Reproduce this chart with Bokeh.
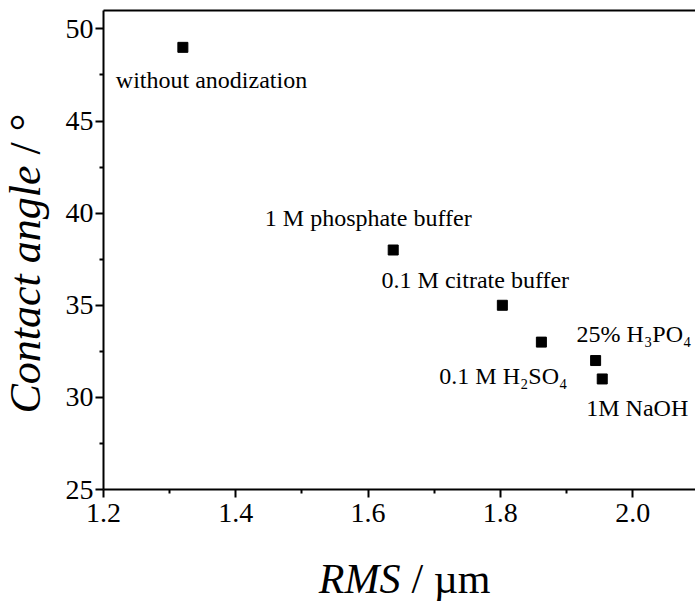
from bokeh.plotting import figure
from bokeh.layouts import row, column
from bokeh.models import ColumnDataSource, Range1d, LinearAxis, FixedTicker
from bokeh.core.properties import value
from bokeh.embed import file_html
from bokeh.resources import INLINE

# Surface roughness (RMS, µm) vs. water contact angle (°) for each treatment
treatments = [
    "without anodization",
    "1 M phosphate buffer",
    "0.1 M citrate buffer",
    "0.1 M H₂SO₄",
    "25% H₃PO₄",
    "1M NaOH",
]
rms = [1.32, 1.638, 1.803, 1.862, 1.944, 1.954]
contact_angle = [49.0, 38.0, 35.0, 33.0, 32.0, 31.0]

x_ticks = [1.2, 1.4, 1.6, 1.8, 2.0]
x_tick_labels = ["1.2", "1.4", "1.6", "1.8", "2.0"]
y_ticks = [25, 30, 35, 40, 45, 50]
y_tick_labels = ["25", "30", "35", "40", "45", "50"]

# Placement of each treatment label relative to its marker (pixels)
label_align = ["left", "center", "center", "right", "left", "left"]
label_dx = [-67, -25, -27, 26, -19, -16]
label_dy = [33, -32, -25, 34, -27, 29]

SERIF = "Liberation Serif"
W, H = 695, 601
LEFT_W = 50          # strip holding the y-axis title
BOTTOM_H = 62        # strip holding the x-axis title
MAIN_W, MAIN_H = W - LEFT_W, H - BOTTOM_H

source = ColumnDataSource(dict(
    x=rms, y=contact_angle, name=treatments,
    align=label_align, dx=label_dx, dy=label_dy,
))

p = figure(
    width=MAIN_W, height=MAIN_H,
    x_range=Range1d(1.2, 2.095), y_range=Range1d(25, 51),
    output_backend="svg", toolbar_location=None,
    min_border_left=53, min_border_right=0,
    min_border_top=10, min_border_bottom=50,
)
p.title.visible = False
p.background_fill_color = "white"
p.border_fill_color = "white"
p.outline_line_color = None
p.xgrid.visible = False
p.ygrid.visible = False

# Axes
x_minor = [(a + b) / 2 for a, b in zip(x_ticks, x_ticks[1:])]
y_minor = [(a + b) / 2 for a, b in zip(y_ticks, y_ticks[1:])]
p.xaxis.ticker = FixedTicker(ticks=x_ticks, minor_ticks=x_minor)
p.yaxis.ticker = FixedTicker(ticks=y_ticks, minor_ticks=y_minor)
p.xaxis.major_label_overrides = dict(zip(x_ticks, x_tick_labels))
p.yaxis.major_label_overrides = dict(zip(y_ticks, y_tick_labels))

for ax in (p.xaxis[0], p.yaxis[0]):
    ax.axis_line_color = "black"
    ax.axis_line_width = 2
    ax.major_tick_line_color = "black"
    ax.major_tick_line_width = 2
    ax.major_tick_out = 8
    ax.major_tick_in = 0
    ax.minor_tick_line_color = "black"
    ax.minor_tick_line_width = 2
    ax.minor_tick_out = 4
    ax.minor_tick_in = 0
    ax.major_label_text_font = SERIF
    ax.major_label_text_font_size = "28px"
    ax.major_label_text_color = "black"
p.xaxis.major_label_standoff = 6
p.yaxis.major_label_standoff = 2

# Top frame line only (no ticks, no labels)
top = LinearAxis(
    ticker=FixedTicker(ticks=[]),
    axis_line_color="black", axis_line_width=2,
    major_tick_line_color=None, minor_tick_line_color=None,
    major_tick_out=0, minor_tick_out=0, major_label_standoff=0,
)
p.add_layout(top, "above")

# Markers
p.scatter("x", "y", source=source, marker="square", size=10,
          fill_color="black", line_color="black")

# Treatment labels
p.text("x", "y", text="name", source=source,
       text_align="align", text_baseline="alphabetic",
       x_offset="dx", y_offset="dy",
       text_font=value(SERIF), text_font_size="24px", text_color="black")


def title_strip(w, h):
    """Blank canvas in pixel units (origin bottom-left) for an axis title."""
    f = figure(width=w, height=h, frame_width=w, frame_height=h,
               x_range=Range1d(0, w), y_range=Range1d(0, h),
               output_backend="svg", toolbar_location=None,
               x_axis_location=None, y_axis_location=None,
               min_border=0, outline_line_color=None)
    f.title.visible = False
    f.xgrid.visible = False
    f.ygrid.visible = False
    f.background_fill_color = "white"
    f.border_fill_color = "white"
    return f


# x-axis title: italic quantity, upright unit (strip frame lines up with the plot frame)
bx = title_strip(MAIN_W, BOTTOM_H)
bx.text([297], [23], text=["RMS"], text_align="right", text_baseline="alphabetic",
        text_font=value(SERIF), text_font_style="italic",
        text_font_size="42px", text_color="black")
bx.text([308], [23], text=["/ µm"], text_align="left", text_baseline="alphabetic",
        text_font=value(SERIF), text_font_size="42px", text_color="black")

# y-axis title, rotated to read bottom-to-top
ly = title_strip(LEFT_W, H)
ly.text([25], [436], text=["Contact angle"], angle=1.5708,
        text_align="right", text_baseline="alphabetic",
        text_font=value(SERIF), text_font_style="italic",
        text_font_size="44px", text_color="black")
ly.text([25], [447], text=["/ °"], angle=1.5708,
        text_align="left", text_baseline="alphabetic",
        text_font=value(SERIF), text_font_size="44px", text_color="black")

layout = row(ly, column(p, bx, spacing=0), spacing=0)

open("out.html", "w").write(file_html(layout, INLINE))
